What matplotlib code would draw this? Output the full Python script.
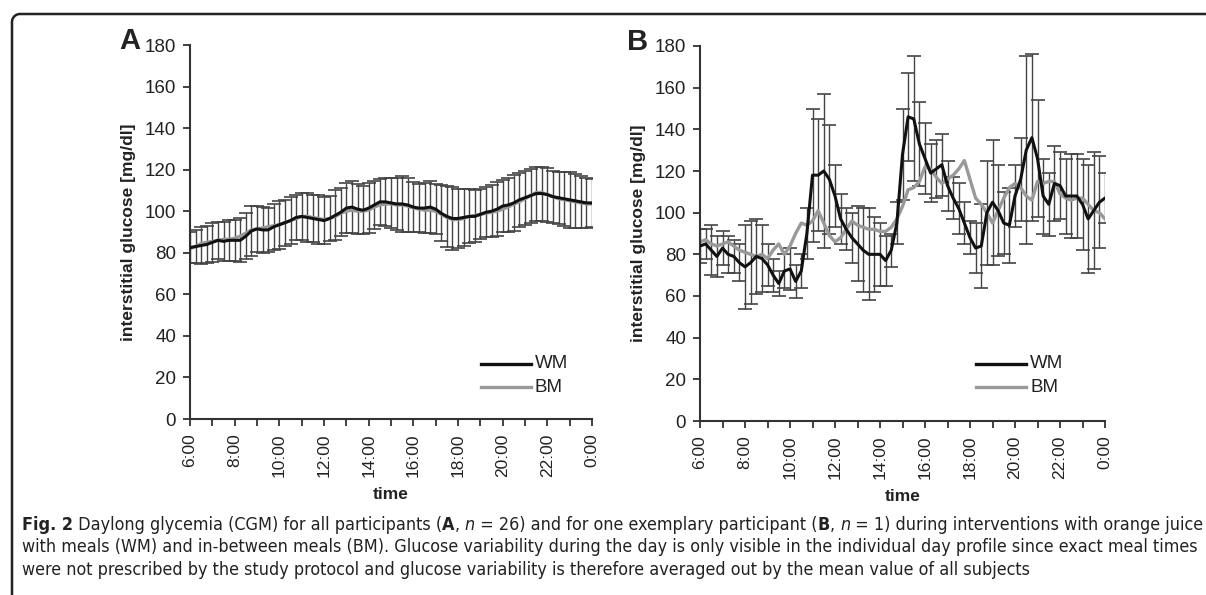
import numpy as np
import matplotlib
matplotlib.use("Agg")
import matplotlib.pyplot as plt
from matplotlib.lines import Line2D
from matplotlib import font_manager

# ---------------- data ----------------
hours = [6 + 0.25 * i for i in range(73)]  # 15-min grid 6:00 .. 0:00
tick_labels = ["6:00", "8:00", "10:00", "12:00", "14:00", "16:00", "18:00", "20:00", "22:00", "0:00"]

wm_a = [82.5, 83, 83.5, 84, 85, 86, 85.5, 86, 86, 86, 88, 90.5, 91.5, 91, 91, 92.5,
        93.5, 94.5, 95.5, 97, 97.5, 97, 96.5, 96, 95.5, 96.5, 98, 99.5, 101.5, 102,
        101, 100.5, 101.5, 103, 104.5, 104.5, 104, 103.5, 103.5, 103, 102, 101.5,
        101.5, 102, 101, 99, 97.5, 96.5, 96.5, 97, 97.5, 97.5, 98.5, 99.5, 100, 101,
        102.5, 103, 104, 105.5, 106.5, 107.5, 108.5, 108.5, 108, 107, 106.5, 106,
        105.5, 105, 104.5, 104, 104]
bm_a = [82, 83, 84.5, 85, 85.5, 86, 86.5, 86.5, 87, 88, 89.5, 91, 91.5, 92, 92.5, 93,
        93.5, 94.5, 95.5, 96.5, 97.5, 97.5, 97, 96.5, 96, 96.5, 97.5, 99, 100, 100.5,
        100, 100, 100.5, 102, 103, 103.5, 103.5, 103, 103, 102.5, 101.5, 101, 100.5,
        100.5, 100, 98.5, 97, 96, 96, 96.5, 97.5, 98, 98.5, 99, 99.5, 100, 101, 102,
        103.5, 104.5, 106, 107.5, 109, 109, 108, 107, 106, 105.5, 105, 104.5, 104,
        103.5, 103.5]
sd_a = [7.5, 8, 9, 9, 9.5, 9, 9.5, 10, 10, 10.5, 11, 12, 11, 11, 10.5, 11, 11.5, 11,
        11.5, 11, 11.5, 12, 11.5, 12, 11.5, 11, 12, 11.5, 12, 12.5, 12, 11.5, 12, 11.5,
        11, 11.5, 12, 12.5, 13.5, 13, 12, 11.5, 12, 12.5, 12, 13.5, 14.5, 15, 14, 13.5,
        13, 12.5, 12, 12, 12.5, 13, 12.5, 13, 13.5, 13, 13, 13, 13, 13, 13, 12.5, 12.5,
        13, 13.5, 13, 12.5, 12, 11.5]

wm_b = [84, 85, 82, 79, 83, 80, 79, 76, 74, 76, 79, 78, 75, 70, 66, 72, 73, 67, 72, 90,
        118, 118, 120, 116, 108, 97, 92, 88, 85, 82, 80, 80, 80, 77, 82, 95, 128, 146,
        145, 133, 126, 119, 121, 123, 113, 107, 102, 95, 88, 83, 84, 100, 105, 101, 95,
        94, 108, 116, 130, 136, 126, 108, 104, 114, 113, 108, 108, 108, 104, 97, 101,
        105, 107]
bm_b = [86, 87, 85, 84, 85, 86, 84, 82, 81, 80, 79, 80, 78, 82, 85, 80, 84, 90, 95, 94,
        96, 101, 95, 89, 86, 88, 92, 96, 94, 93, 92, 92, 91, 91, 93, 97, 103, 111, 112,
        115, 122, 121, 117, 114, 116, 118, 121, 125, 116, 107, 104, 100, 95, 101, 107,
        112, 114, 112, 108, 106, 115, 114, 115, 115, 109, 107, 106, 107, 107, 104, 101,
        100, 97]
sd_b = [8, 7, 12, 10, 8, 9, 8, 9, 20, 20, 18, 16, 10, 8, 6, 8, 10, 8, 8, 12, 32, 27, 37,
        26, 15, 12, 10, 12, 18, 20, 22, 18, 15, 12, 8, 10, 22, 21, 30, 20, 17, 14, 14,
        15, 12, 10, 12, 10, 8, 12, 20, 25, 30, 22, 15, 18, 15, 20, 45, 40, 28, 18, 15,
        18, 16, 18, 20, 20, 22, 26, 28, 22, 12]

series_names = ["WM", "BM"]
# caption: list of lines, each a list of (text, weight, style)
caption_lines = [
    [("Fig. 2", "bold", "normal"),
     (" Daylong glycemia (CGM) for all participants (", "normal", "normal"),
     ("A", "bold", "normal"), (", ", "normal", "normal"), ("n", "normal", "italic"),
     (" = 26) and for one exemplary participant (", "normal", "normal"),
     ("B", "bold", "normal"), (", ", "normal", "normal"), ("n", "normal", "italic"),
     (" = 1) during interventions with orange juice", "normal", "normal")],
    [("with meals (WM) and in-between meals (BM). Glucose variability during the day is only "
      "visible in the individual day profile since exact meal times", "normal", "normal")],
    [("were not prescribed by the study protocol and glucose variability is therefore "
      "averaged out by the mean value of all subjects", "normal", "normal")],
]

# ---------------- style ----------------
plt.rcParams["font.family"] = ["Liberation Sans", "DejaVu Sans"]

W, H = 1206, 595
fig = plt.figure(figsize=(W / 100, H / 100), dpi=100)
renderer = fig.canvas.get_renderer()

AX_COL = "#333333"
WM_COL = "#111111"
BM_COL = "#999999"
TXT = "#222222"


def px_rect(x0, y0, x1, y1):
    return [x0 / W, 1 - y1 / H, (x1 - x0) / W, (y1 - y0) / H]


def setup(ax):
    ax.set_xlim(6, 24)
    ax.set_ylim(0, 180)
    for s in ["top", "right"]:
        ax.spines[s].set_visible(False)
    for s in ["left", "bottom"]:
        ax.spines[s].set_color(AX_COL)
        ax.spines[s].set_linewidth(1.5)
    ax.set_yticks(range(0, 181, 20))
    ax.set_xticks(np.arange(6, 24.1, 2))
    ax.set_xticks(np.arange(6, 24.1, 1), minor=True)
    ax.set_xticklabels(tick_labels, rotation=90)
    ax.tick_params(axis="both", which="both", direction="out", length=5, width=1.3,
                   color=AX_COL, labelcolor=TXT)
    ax.tick_params(axis="y", pad=5, labelsize=13.5)
    ax.tick_params(axis="x", pad=5.5, labelsize=12.5)
    ax.set_ylabel("interstitial glucose [mg/dl]", fontsize=12.5, fontweight="bold",
                  color=TXT, labelpad=6)
    ax.set_xlabel("time", fontsize=12.5, fontweight="bold", color=TXT, labelpad=7)
    ax.patch.set_alpha(0)


def draw(ax, wm, bm, sd):
    ax.errorbar(hours, wm, yerr=sd, fmt="none", ecolor="#444444", elinewidth=1.0,
                capsize=5, capthick=1.2, zorder=1)
    ax.plot(hours, bm, color=BM_COL, lw=2.4, zorder=2, label=series_names[1])
    ax.plot(hours, wm, color=WM_COL, lw=2.2, zorder=3, label=series_names[0])


axA = fig.add_axes(px_rect(190, 45, 592, 419))
setup(axA)
draw(axA, wm_a, bm_a, sd_a)

axB = fig.add_axes(px_rect(700, 46, 1105, 421))
setup(axB)
draw(axB, wm_b, bm_b, sd_b)


def legend(x0):
    for y, name, col in [(364, series_names[0], WM_COL), (387, series_names[1], BM_COL)]:
        fig.add_artist(Line2D([x0 / W, (x0 + 50) / W], [1 - y / H, 1 - y / H],
                              color=col, lw=2.4))
        fig.text((x0 + 54) / W, 1 - y / H, name, fontsize=13.5, color=TXT,
                 va="center", ha="left")

legend(481)
legend(976)

fig.text(130 / W, 1 - 41 / H, "A", fontsize=21, fontweight="bold", ha="center",
         va="center", color=TXT)
fig.text(638 / W, 1 - 42 / H, "B", fontsize=21, fontweight="bold", ha="center",
         va="center", color=TXT)

# frame (left + top with rounded corner)
r = 8
x0, y0 = 12, 14
t = np.linspace(np.pi, np.pi / 2, 20)
cx, cy = x0 + r, y0 + r
fx = np.concatenate([[x0], cx + r * np.cos(t), [W + 5]])
fy = np.concatenate([[H + 5], cy - r * np.sin(t), [y0]])
fig.add_artist(Line2D(fx / W, 1 - fy / H, color=TXT, lw=1.8))

# ---------------- caption: pick a narrow font if one is installed ----------------
cap_family, cap_stretch = "Liberation Sans", "normal"
for fe in font_manager.fontManager.ttflist:
    nm = fe.name
    st = str(fe.stretch)
    if ("Narrow" in nm or "Condensed" in nm) and "Mono" not in nm:
        cap_family, cap_stretch = nm, "normal"
        break
    if st in ("condensed", "semi-condensed") and "Mono" not in nm and "Serif" not in nm:
        cap_family, cap_stretch = nm, st
        break


def text_width(s, size, weight, style):
    tt = fig.text(0, 0, "X" + s + "X", fontsize=size, fontweight=weight, fontstyle=style,
                  family=cap_family, fontstretch=cap_stretch)
    w1 = tt.get_window_extent(renderer).width
    tt.remove()
    tt = fig.text(0, 0, "XX", fontsize=size, fontweight=weight, fontstyle=style,
                  family=cap_family, fontstretch=cap_stretch)
    w2 = tt.get_window_extent(renderer).width
    tt.remove()
    return w1 - w2


base = 12.0
target = 1178.0
w_line1 = sum(text_width(s, base, w, st) for s, w, st in caption_lines[0])
cap_size = min(13.0, base * target / w_line1)

for i, segs in enumerate(caption_lines):
    x = 22.0
    y = 530 + 22.5 * i
    for s, w, st in segs:
        fig.text(x / W, 1 - y / H, s, fontsize=cap_size, fontweight=w, fontstyle=st,
                 family=cap_family, fontstretch=cap_stretch, color=TXT,
                 va="baseline", ha="left")
        x += text_width(s, cap_size, w, st)

fig.savefig("out.png", dpi=100)
